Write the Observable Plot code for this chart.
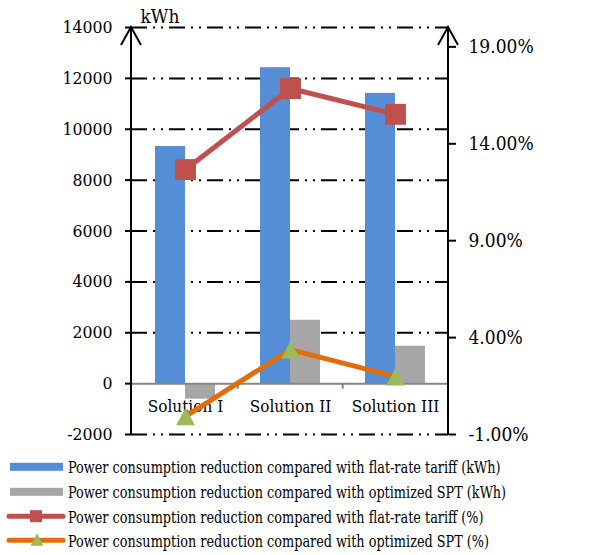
<!DOCTYPE html>
<html>
<head>
<meta charset="utf-8">
<script src="https://cdn.jsdelivr.net/npm/d3@7"></script>
<script src="https://cdn.jsdelivr.net/npm/@observablehq/plot@0.6"></script>
<style>
  html, body { margin: 0; padding: 0; background: #fff; }
  #chart { width: 589px; }
  #chart svg text { font-stretch: condensed; }
</style>
</head>
<body>
<div id="chart"></div>
<script>
// Power consumption reduction per solution (kWh on the left axis, % on the right axis)
const categories = ["Solution I", "Solution II", "Solution III"];
const flatKWh = [9320, 12420, 11410];
const sptKWh = [-610, 2490, 1470];
const flatPct = [12.67, 16.85, 15.52];
const sptPct = [-0.07, 3.38, 1.99];

const leftTicks = [-2000, 0, 2000, 4000, 6000, 8000, 10000, 12000, 14000];
const leftDomain = [-2000, 14000];
const rightTicks = [-1, 4, 9, 14, 19];
const rightDomain = [-1, 20];

const seriesNames = [
  "Power consumption reduction compared with flat-rate tariff (kWh)",
  "Power consumption reduction compared with optimized SPT (kWh)",
  "Power consumption reduction compared with flat-rate tariff (%)",
  "Power consumption reduction compared with optimized SPT (%)"
];

const colors = {blue: "#558ED5", gray: "#A6A6A6", red: "#C0504D", orange: "#E46C0A", green: "#9BBB59", axis: "#868686"};
const serif = "'DejaVu Serif Condensed', 'DejaVu Serif', serif";

// the percentage axis is mapped linearly onto the kWh axis
const k = (leftDomain[1] - leftDomain[0]) / (rightDomain[1] - rightDomain[0]);
const toLeft = p => leftDomain[0] + (p - rightDomain[0]) * k;
const toPct = v => rightDomain[0] + (v - leftDomain[0]) / k;

const rows = categories.map((c, i) => ({
  category: c, flat: flatKWh[i], spt: sptKWh[i], flatPct: flatPct[i], sptPct: sptPct[i]
}));

// triangle centred on its bounding box
const triangle = {
  draw(context, size) {
    const w = Math.sqrt(size) * 1.05, h = w * 0.95;
    context.moveTo(0, -h / 2);
    context.lineTo(w / 2, h / 2);
    context.lineTo(-w / 2, h / 2);
    context.closePath();
  }
};

const W = 589, H = 450;
const mL = 131, mR = 141, mT = 27, mB = 16;
const padInner = 0.432, padOuter = 0.216;
const step = (W - mL - mR) / (categories.length - padInner + 2 * padOuter);
const bandwidth = step * (1 - padInner);

// vertical axis lines with open arrow heads
function axisLines(index, scales, values, dimensions) {
  const {width, height, marginLeft, marginRight, marginTop, marginBottom} = dimensions;
  const g = d3.create("svg:g").attr("stroke", "black").attr("stroke-width", 2).attr("fill", "none");
  for (const x of [marginLeft, width - marginRight]) {
    g.append("path")
      .attr("d", `M${x},${height - marginBottom + 1}V${marginTop}M${x - 10},${marginTop + 18}L${x},${marginTop}L${x + 10},${marginTop + 18}`);
  }
  return g.node();
}

const chart = Plot.plot({
  width: W, height: H,
  marginLeft: mL, marginRight: mR, marginTop: mT, marginBottom: mB,
  style: {fontFamily: serif, fontSize: "18px", color: "black", background: "white", overflow: "visible"},
  x: {domain: categories, paddingInner: padInner, paddingOuter: padOuter, axis: null},
  y: {domain: leftDomain, axis: null},
  marks: [
    Plot.ruleY(leftTicks.filter(t => t !== 0), {stroke: "black", strokeWidth: 2, strokeDasharray: "16,6,2,6,2,6"}),
    Plot.axisY({anchor: "left", ticks: leftTicks, tickSize: 6, tickPadding: 13, tickFormat: d => String(d), stroke: "black", strokeWidth: 2, fontSize: 17.5, label: null}),
    Plot.axisY(rightTicks.map(toLeft), {anchor: "right", tickSize: 7, tickPadding: 13, tickFormat: v => toPct(v).toFixed(2) + "%", stroke: "black", strokeWidth: 2, fontSize: 19, label: null}),
    Plot.barY(rows, {x: "category", y: "flat", fill: colors.blue, insetRight: bandwidth / 2}),
    Plot.barY(rows, {x: "category", y: "spt", fill: colors.gray, insetLeft: bandwidth / 2}),
    Plot.ruleY([0], {stroke: colors.axis, strokeWidth: 2}),
    Plot.ruleX(categories.slice(1), {x: d => d, y1: 0, y2: -220, dx: -step / 2, stroke: colors.axis, strokeWidth: 2}),
    axisLines,
    Plot.text(categories, {x: d => d, y: 0, dy: 16, lineAnchor: "top", fontSize: 17}),
    Plot.text(["kWh"], {frameAnchor: "top-left", dx: 9, dy: -5, lineAnchor: "bottom", textAnchor: "start", fontSize: 19}),
    Plot.line(rows, {x: "category", y: d => toLeft(d.flatPct), stroke: colors.red, strokeWidth: 5}),
    Plot.dot(rows, {x: "category", y: d => toLeft(d.flatPct), symbol: "square", r: 11.8, fill: colors.red}),
    Plot.line(rows, {x: "category", y: d => toLeft(d.sptPct), stroke: colors.orange, strokeWidth: 5}),
    Plot.dot(rows, {x: "category", y: d => toLeft(d.sptPct), symbol: triangle, r: 10, fill: colors.green})
  ]
});
document.getElementById("chart").append(chart);

// legend below the chart
const legend = d3.create("svg").attr("width", W).attr("height", 555 - H).style("display", "block");
const baselines = [23.3, 48.3, 72.7, 96.7];
const swatch = [
  g => g.append("rect").attr("x", 10).attr("y", -4).attr("width", 53).attr("height", 8).attr("fill", colors.blue),
  g => g.append("rect").attr("x", 10).attr("y", -4).attr("width", 53).attr("height", 8).attr("fill", colors.gray),
  g => {
    g.append("line").attr("x1", 9).attr("x2", 63).attr("stroke", colors.red).attr("stroke-width", 5).attr("stroke-linecap", "round");
    g.append("rect").attr("x", 30).attr("y", -6).attr("width", 12).attr("height", 12).attr("fill", colors.red);
  },
  g => {
    g.append("line").attr("x1", 9).attr("x2", 63).attr("stroke", colors.orange).attr("stroke-width", 5).attr("stroke-linecap", "round");
    g.append("path").attr("d", "M37,-7L43.5,5.5L30.5,5.5Z").attr("fill", colors.green);
  }
];
seriesNames.forEach((name, i) => {
  const g = legend.append("g").attr("transform", `translate(0,${baselines[i] - 6.5})`);
  swatch[i](g);
  // legend labels are set tall and narrow
  legend.append("text")
    .attr("transform", `translate(68,${baselines[i]}) scale(0.84,1)`)
    .attr("font-size", 17).attr("font-family", serif).attr("fill", "black").text(name);
});
document.getElementById("chart").append(legend.node());
</script>
</body>
</html>
